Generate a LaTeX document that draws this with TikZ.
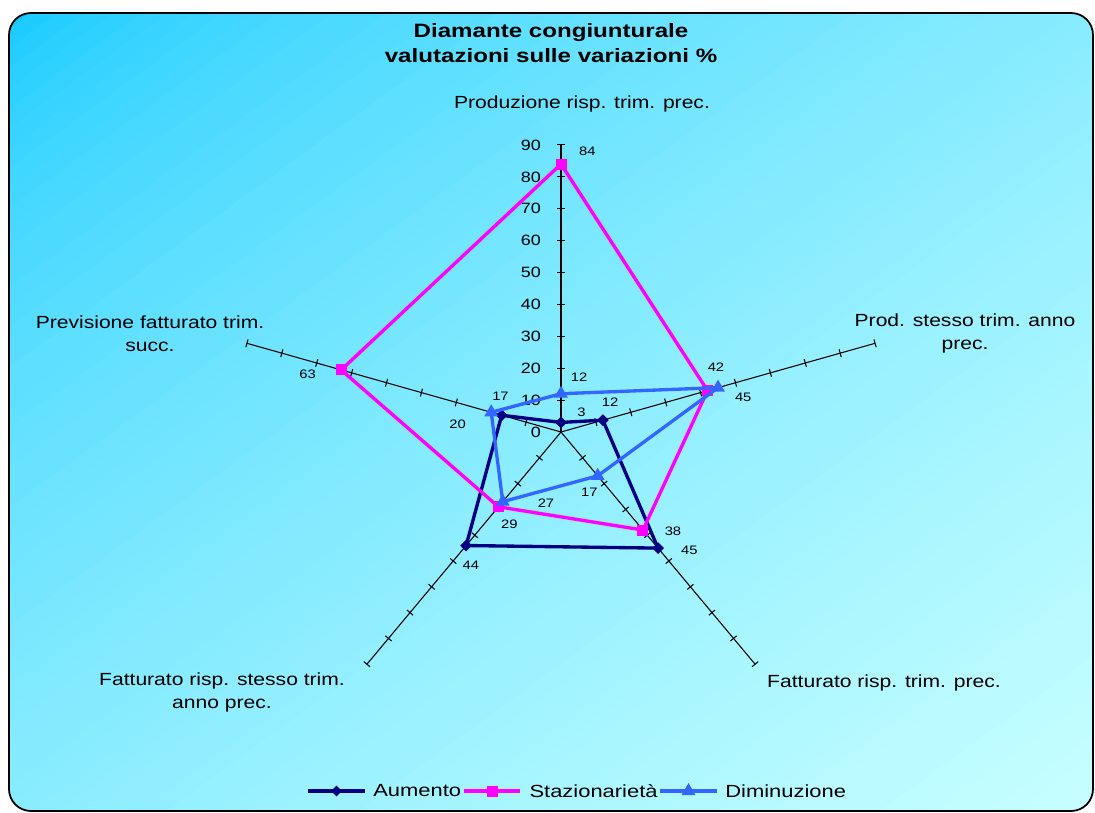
\documentclass[tikz,border=0pt]{standalone}
\usepackage{fontspec}
\setmainfont{Liberation Sans}
\usetikzlibrary{shapes.geometric, calc, positioning}
\definecolor{aumento}{RGB}{0,0,128}
\definecolor{staz}{RGB}{255,0,255}
\definecolor{dimin}{RGB}{51,102,255}
\definecolor{bgTL}{RGB}{18,200,255}
\definecolor{bgBR}{RGB}{200,255,255}
\tikzstyle{stdText} = [align=center, xscale=1.2, transform shape]
\tikzstyle{catLabel} = [stdText, font=\fontsize{10}{13}\selectfont]
\tikzstyle{titleText} = [stdText, xscale=1.04, font=\fontsize{11}{14.2}\selectfont\bfseries]
\tikzstyle{axNum} = [stdText, font=\fontsize{8.5}{9}\selectfont, anchor=east, inner sep=0pt]
\tikzstyle{dLab} = [stdText, font=\fontsize{7}{8}\selectfont, inner sep=0pt]
\tikzstyle{legText} = [stdText, xscale=1.04, font=\fontsize{10}{12}\selectfont, anchor=west, inner sep=0pt, text=black]
\tikzstyle{spoke} = [line width=0.6pt, black]
\tikzstyle{serie} = [line width=1.9pt, line join=round]
\tikzstyle{mAu} = [diamond, fill=aumento, inner sep=0pt, minimum size=0.24cm]
\tikzstyle{mSt} = [rectangle, fill=staz, inner sep=0pt, minimum size=0.22cm]
\tikzstyle{mDi} = [regular polygon, regular polygon sides=3, fill=dimin, inner sep=0pt, minimum size=0.32cm]

\begin{document}
\begin{tikzpicture}[x=0.02cm, y=0.02cm]
    \useasboundingbox (0,0) rectangle (1095,812);
    % background: diagonal gradient, drawn as bands
    \begin{scope}
        \clip [rounded corners=0.44cm] (9,1) rectangle (1093,799);
        \begin{scope}[shift={(551,400)}, rotate=-54]
            \foreach \k in {0,...,79}{
                \pgfmathtruncatemacro\pc{100*(\k/79)^0.6}
                \pgfmathsetmacro\s{-645+16.125*\k}
                \fill [bgBR!\pc!bgTL] (\s,-800) rectangle (700,800);
            }
        \end{scope}
    \end{scope}
    \begin{scope}
        \clip (0,0) rectangle (1095,812);
        \draw [line width=1pt, rounded corners=0.44cm] (9,1) rectangle (1093,799);
    \end{scope}

    % title
    \node (title) [titleText] at (551,768.5) {Diamante congiunturale \\ valutazioni sulle variazioni \%};

    % the spokes of the diamond
    \begin{scope}[shift={(561,380)}, x=0.0734cm, y=0.0638cm]
        \coordinate (ctr) at (0,0);
        \foreach \a in {90,18,-54,-126,162}{
            \draw [spoke] (ctr) -- (\a:90);
            \foreach \r in {10,20,...,90}
                \draw [spoke] ($(\a:\r)!0.08cm!90:(ctr)$) -- ($(\a:\r)!0.08cm!-90:(ctr)$);
        }
        \foreach \r in {0,10,...,90}
            \node (n\r) [axNum, xshift=-0.33cm] at (0,\r) {\r};

        % data points
        \foreach \a/\v/\i in {90/3/1, 18/12/2, -54/45/3, -126/44/4, 162/17/5}
            \coordinate (au\i) at (\a:\v);
        \foreach \a/\v/\i in {90/84/1, 18/42/2, -54/38/3, -126/29/4, 162/63/5}
            \coordinate (st\i) at (\a:\v);
        \foreach \a/\v/\i in {90/12/1, 18/45/2, -54/17/3, -126/27/4, 162/20/5}
            \coordinate (di\i) at (\a:\v);

        % Aumento
        \draw [serie, aumento] (au1) -- (au2) -- (au3) -- (au4) -- (au5) -- cycle;
        \foreach \i in {1,...,5}
            \node [mAu] at (au\i) {};
        % Stazionarieta
        \draw [serie, staz] (st1) -- (st2) -- (st3) -- (st4) -- (st5) -- cycle;
        \foreach \i in {1,...,5}
            \node [mSt] at (st\i) {};
        % Diminuzione
        \draw [serie, dimin] (di1) -- (di2) -- (di3) -- (di4) -- (di5) -- cycle;
        \foreach \i in {1,...,5}
            \node [mDi] at (di\i) {};

        % value labels
        \foreach \i/\val/\dx/\dy in {1/3/17/10, 2/12/6/18, 3/45/26/-2, 4/44/4/-20, 5/17/-1/19}
            \node [dLab, xshift=\dx*0.02cm, yshift=\dy*0.02cm] at (au\i) {\val};
        \foreach \i/\val/\dx/\dy in {1/84/22/13, 2/42/7/23, 3/38/25/-1, 4/29/9/-17, 5/63/-28/-4}
            \node [dLab, xshift=\dx*0.02cm, yshift=\dy*0.02cm] at (st\i) {\val};
        \foreach \i/\val/\dx/\dy in {1/12/15/17, 2/45/21/-10, 3/17/-7/-16, 4/27/36/-2, 5/20/-28/-12}
            \node [dLab, xshift=\dx*0.02cm, yshift=\dy*0.02cm] at (di\i) {\val};
    \end{scope}

    % category labels
    \node (c1) [catLabel] at (582,708) {Produzione risp. trim. prec.};
    \node (c2) [catLabel] at (965,478.5) {Prod. stesso trim. anno \\ prec.};
    \node (c3) [catLabel] at (884,129) {Fatturato risp. trim. prec.};
    \node (c4) [catLabel] at (222,119.5) {Fatturato risp. stesso trim. \\ anno prec.};
    \node (c5) [catLabel] at (150,478.5) {Previsione fatturato trim. \\ succ.};

    % legend
    \coordinate (legA) at (308,21);
    \coordinate (legS) at (464,21);
    \coordinate (legD) at (660,21);
    \draw [serie, aumento] (legA) -- node [mAu] {} ++(57,0) node (txtA) [legText, xshift=5*0.02cm] {Aumento};
    \draw [serie, staz] (legS) -- node [mSt] {} ++(56,0) node (txtS) [legText, xshift=6*0.02cm] {Stazionarietà};
    \draw [serie, dimin] (legD) -- node [mDi] {} ++(57,0) node (txtD) [legText, xshift=5*0.02cm] {Diminuzione};
\end{tikzpicture}
\end{document}
